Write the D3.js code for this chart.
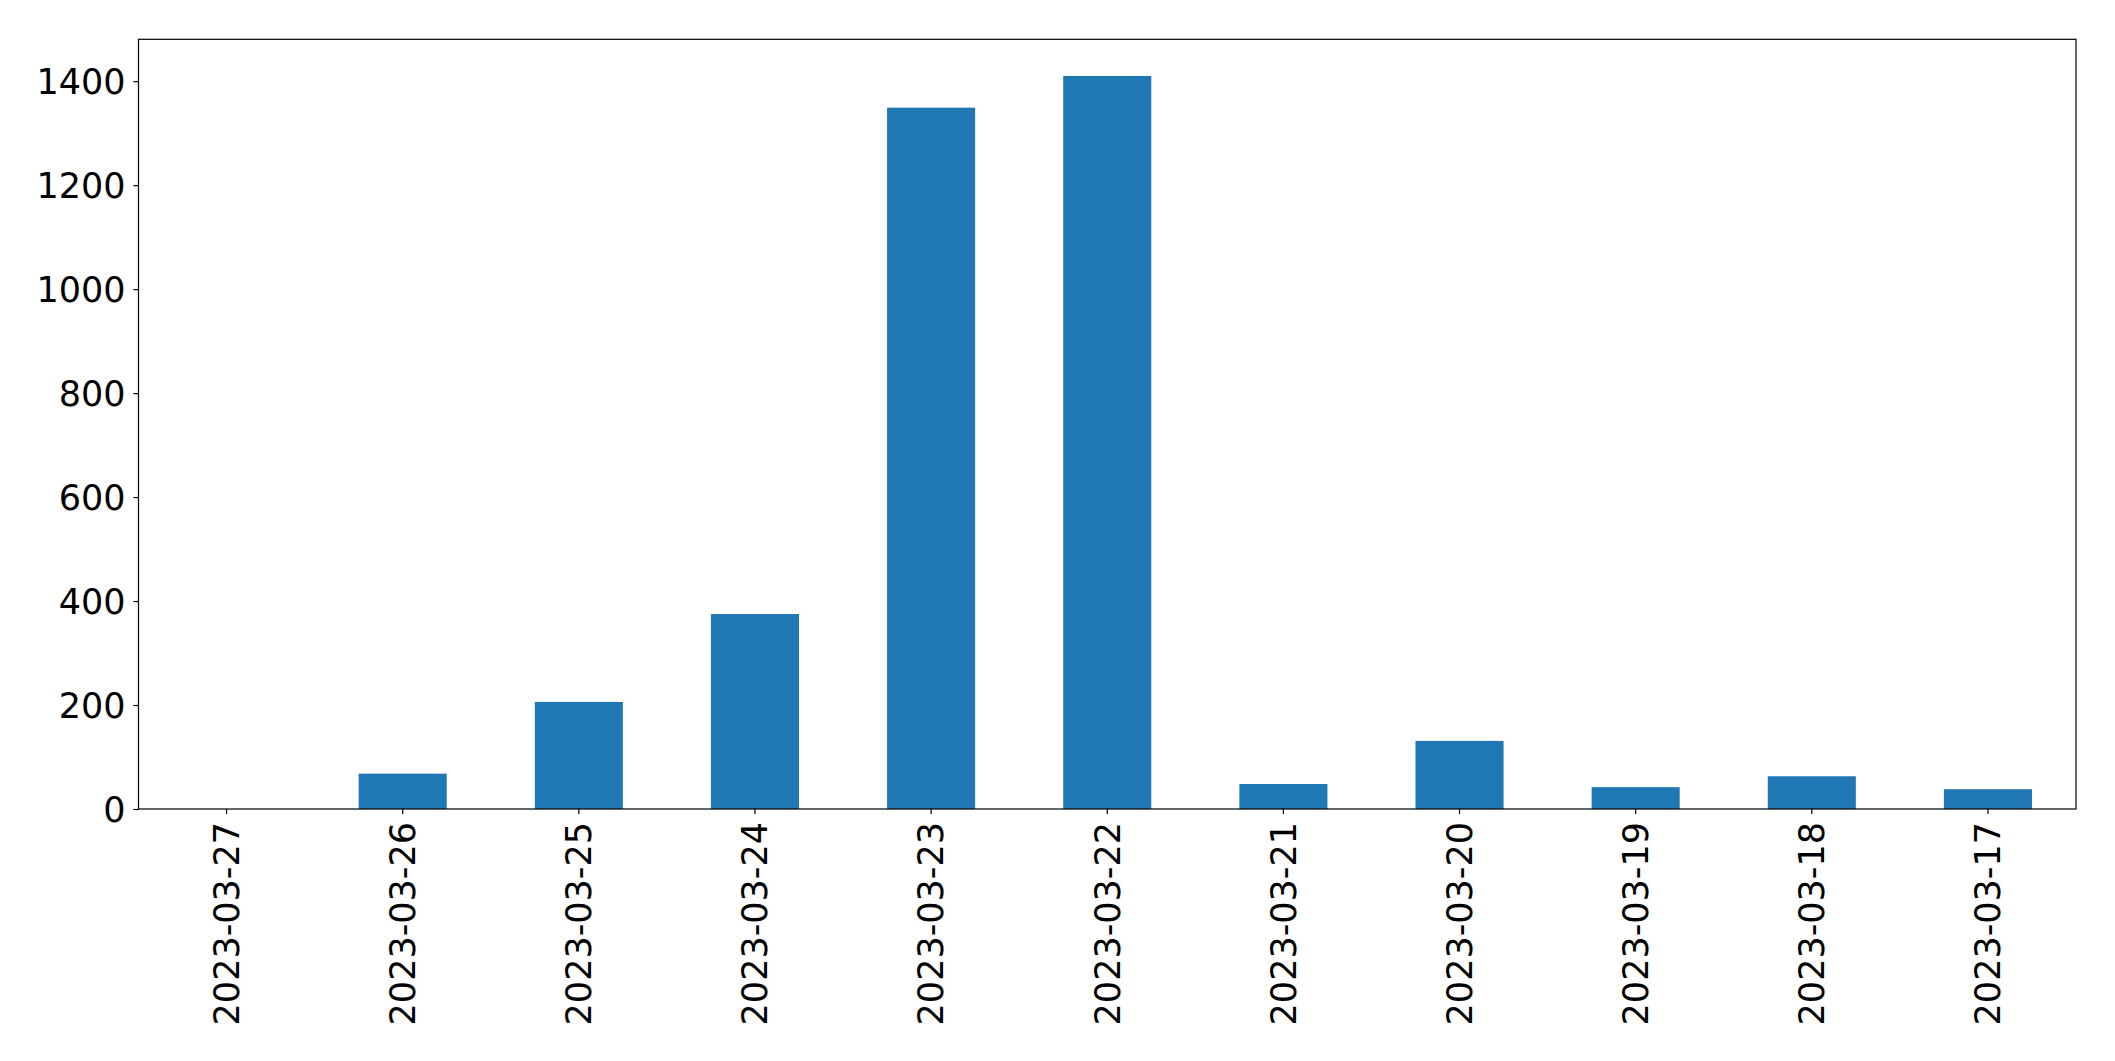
<!DOCTYPE html>
<html>
<head>
<meta charset="utf-8">
<script src="https://cdn.jsdelivr.net/npm/d3@7"></script>
<style>
  html, body { margin: 0; padding: 0; background: #fff; }
  svg { display: block; }
  text { font-family: "DejaVu Sans", sans-serif; }
</style>
</head>
<body>
<svg id="chart" width="2115" height="1061"></svg>
<script>
const categories = ["2023-03-27","2023-03-26","2023-03-25","2023-03-24","2023-03-23","2023-03-22","2023-03-21","2023-03-20","2023-03-19","2023-03-18","2023-03-17"];
const values = [0, 68, 206, 375, 1349, 1410, 48, 131, 42, 63, 38];
const yTicks = [0, 200, 400, 600, 800, 1000, 1200, 1400];

const W = 2115, H = 1061;
const m = { left: 138.5, right: W - 2076, top: 39.3, bottom: H - 809 };
const iw = W - m.left - m.right, ih = H - m.top - m.bottom;

const svg = d3.select("#chart");
const g = svg.append("g").attr("transform", `translate(${m.left},${m.top})`);

const x = d3.scaleBand().domain(categories).range([0, iw]).paddingInner(0.5).paddingOuter(0.25);
const yMax = d3.max(values) * 1.05;
const y = d3.scaleLinear().domain([0, yMax]).range([ih, 0]);

g.selectAll("rect.bar").data(values).join("rect")
  .attr("class", "bar")
  .attr("x", (d, i) => x(categories[i]))
  .attr("width", x.bandwidth())
  .attr("y", d => y(d))
  .attr("height", d => ih - y(d))
  .attr("fill", "#1f77b4");

const xAxis = g.append("g").attr("transform", `translate(0,${ih})`)
  .call(d3.axisBottom(x).tickSize(5).tickPadding(5));
xAxis.select(".domain").remove();
xAxis.selectAll(".tick line").attr("stroke", "#000").attr("stroke-width", 1.2);
xAxis.selectAll(".tick text")
  .attr("font-size", 35)
  .attr("fill", "#000")
  .attr("transform", "rotate(-90)")
  .attr("text-anchor", "end")
  .attr("dy", "0.35em")
  .attr("x", -13)
  .attr("y", 0);

const yAxis = g.append("g")
  .call(d3.axisLeft(y).tickValues(yTicks).tickFormat(d3.format("d")).tickSize(5).tickPadding(8));
yAxis.select(".domain").remove();
yAxis.selectAll(".tick line").attr("stroke", "#000").attr("stroke-width", 1.2);
yAxis.selectAll(".tick text").attr("font-size", 35).attr("fill", "#000").attr("dy", "0.35em");

g.append("rect")
  .attr("x", 0).attr("y", 0).attr("width", iw).attr("height", ih)
  .attr("fill", "none").attr("stroke", "#000").attr("stroke-width", 1.2);
</script>
</body>
</html>
